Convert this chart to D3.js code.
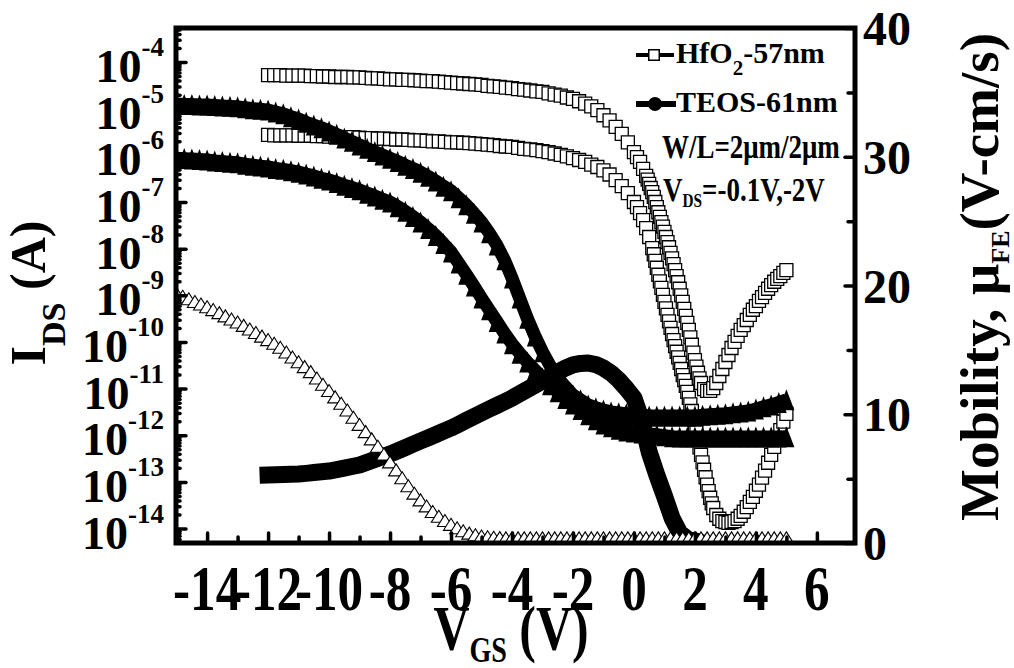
<!DOCTYPE html>
<html>
<head>
<meta charset="utf-8">
<script src="https://cdn.jsdelivr.net/npm/d3@7"></script>
<style>
  body { margin: 0; background: #fff; }
  text { font-family: "Liberation Serif", "Times New Roman", serif; font-weight: bold; fill: #000; }
</style>
</head>
<body>
<div id="chart"></div>
<script>
// ---- tick values ----
var xTicks = [-14, -12, -10, -8, -6, -4, -2, 0, 2, 4, 6];
var xMinorTicks = [-13, -11, -9, -7, -5, -3, -1, 1, 3, 5];
var idsExponents = [-14, -13, -12, -11, -10, -9, -8, -7, -6, -5, -4];
var mobilityTicks = [0, 10, 20, 30, 40];
var mobilityMinorTicks = [5, 15, 25, 35];

// ---- HfO2 transfer curves: [Vgs, log10(Ids)] ----
var hfo2HighVds = [[-12,-4.28],[-11.8,-4.28],[-11.6,-4.28],[-11.4,-4.29],[-11.2,-4.29],[-11,-4.29],[-10.8,-4.29],[-10.6,-4.30],[-10.4,-4.30],[-10.2,-4.31],
  [-10,-4.31],[-9.8,-4.32],[-9.6,-4.32],[-9.4,-4.32],[-9.2,-4.33],[-9,-4.33],[-8.8,-4.34],[-8.6,-4.35],[-8.4,-4.35],[-8.2,-4.36],
  [-8,-4.37],[-7.8,-4.37],[-7.6,-4.38],[-7.4,-4.38],[-7.2,-4.39],[-7,-4.40],[-6.8,-4.41],[-6.6,-4.41],[-6.4,-4.42],[-6.2,-4.43],
  [-6,-4.44],[-5.8,-4.45],[-5.6,-4.46],[-5.4,-4.47],[-5.2,-4.48],[-5,-4.49],[-4.8,-4.51],[-4.6,-4.52],[-4.4,-4.53],[-4.2,-4.55],
  [-4,-4.56],[-3.8,-4.58],[-3.6,-4.59],[-3.4,-4.61],[-3.2,-4.63],[-3,-4.64],[-2.8,-4.67],[-2.6,-4.70],[-2.4,-4.72],[-2.2,-4.76],
  [-2,-4.79],[-1.8,-4.84],[-1.6,-4.89],[-1.4,-4.95],[-1.2,-5.03],[-1,-5.14],[-0.8,-5.25],[-0.6,-5.39],[-0.4,-5.54],[-0.2,-5.72],
  [0,-5.93],[0.1,-6.04],[0.2,-6.14],[0.3,-6.29],[0.4,-6.44],[0.45,-6.52],[0.5,-6.61],[0.55,-6.70],[0.6,-6.79],[0.65,-6.89],
  [0.7,-7.00],[0.75,-7.11],[0.8,-7.22],[0.85,-7.32],[0.9,-7.43],[0.95,-7.53],[1,-7.64],[1.05,-7.75],[1.1,-7.86],[1.15,-7.97],
  [1.2,-8.09],[1.25,-8.21],[1.3,-8.33],[1.35,-8.46],[1.4,-8.59],[1.45,-8.72],[1.5,-8.86],[1.55,-9.00],[1.6,-9.14],[1.65,-9.29],
  [1.7,-9.44],[1.75,-9.59],[1.8,-9.74],[1.85,-9.90],[1.9,-10.06],[1.95,-10.23],[2,-10.39],[2.05,-10.53],[2.1,-10.66],[2.15,-10.78],
  [2.2,-10.88],[2.3,-11.01],[2.4,-11.05],[2.5,-11.05],[2.6,-10.99],[2.7,-10.88],[2.8,-10.73],[2.9,-10.58],[3,-10.43],[3.1,-10.28],
  [3.2,-10.13],[3.3,-10.00],[3.4,-9.87],[3.5,-9.74],[3.6,-9.64],[3.7,-9.53],[3.8,-9.42],[3.9,-9.31],[4,-9.23],[4.1,-9.12],
  [4.2,-9.04],[4.3,-8.95],[4.4,-8.86],[4.5,-8.78],[4.6,-8.71],[4.7,-8.65],[4.8,-8.59],[4.9,-8.52],[5,-8.46]];

var hfo2LowVds = [[-12,-5.56],[-11.8,-5.57],[-11.6,-5.57],[-11.4,-5.57],[-11.2,-5.57],[-11,-5.58],[-10.8,-5.58],[-10.6,-5.58],[-10.4,-5.59],[-10.2,-5.59],
  [-10,-5.60],[-9.8,-5.60],[-9.6,-5.61],[-9.4,-5.61],[-9.2,-5.61],[-9,-5.62],[-8.8,-5.63],[-8.6,-5.63],[-8.4,-5.64],[-8.2,-5.64],
  [-8,-5.65],[-7.8,-5.66],[-7.6,-5.66],[-7.4,-5.67],[-7.2,-5.68],[-7,-5.68],[-6.8,-5.69],[-6.6,-5.70],[-6.4,-5.70],[-6.2,-5.71],
  [-6,-5.72],[-5.8,-5.72],[-5.6,-5.73],[-5.4,-5.74],[-5.2,-5.75],[-5,-5.76],[-4.8,-5.77],[-4.6,-5.78],[-4.4,-5.80],[-4.2,-5.81],
  [-4,-5.82],[-3.8,-5.84],[-3.6,-5.86],[-3.4,-5.87],[-3.2,-5.89],[-3,-5.91],[-2.8,-5.93],[-2.6,-5.96],[-2.4,-5.99],[-2.2,-6.02],
  [-2,-6.06],[-1.8,-6.10],[-1.6,-6.14],[-1.4,-6.20],[-1.2,-6.25],[-1,-6.32],[-0.8,-6.41],[-0.6,-6.53],[-0.4,-6.66],[-0.2,-6.81],
  [0,-7.00],[0.1,-7.11],[0.2,-7.24],[0.3,-7.39],[0.4,-7.56],[0.5,-7.75],[0.6,-7.99],[0.65,-8.12],[0.7,-8.26],[0.75,-8.41],
  [0.8,-8.56],[0.85,-8.70],[0.9,-8.84],[0.95,-8.99],[1,-9.14],[1.05,-9.28],[1.1,-9.42],[1.15,-9.56],[1.2,-9.70],[1.25,-9.83],
  [1.3,-9.96],[1.35,-10.09],[1.4,-10.21],[1.45,-10.33],[1.5,-10.45],[1.55,-10.58],[1.6,-10.71],[1.65,-10.82],[1.7,-10.94],[1.75,-11.07],
  [1.8,-11.20],[1.85,-11.34],[1.9,-11.48],[1.95,-11.63],[2,-11.78],[2.05,-11.94],[2.1,-12.10],[2.15,-12.26],[2.2,-12.42],[2.25,-12.58],
  [2.3,-12.74],[2.35,-12.90],[2.4,-13.06],[2.45,-13.20],[2.5,-13.34],[2.55,-13.46],[2.6,-13.56],[2.7,-13.71],[2.8,-13.79],[2.9,-13.84],
  [3,-13.86],[3.1,-13.88],[3.2,-13.86],[3.3,-13.84],[3.4,-13.79],[3.5,-13.73],[3.6,-13.64],[3.7,-13.54],[3.8,-13.43],[3.9,-13.32],
  [4,-13.19],[4.1,-13.06],[4.2,-12.91],[4.3,-12.76],[4.4,-12.59],[4.5,-12.42],[4.6,-12.25],[4.7,-12.08],[4.8,-11.89],[4.9,-11.71],[5,-11.54]];

// ---- TEOS transfer curves: log10(Ids), Vgs from -15 V in 0.25 V steps ----
var teosStart = -15, teosStep = 0.25;
var teosHighVds = [-4.90,-4.91,-4.91,-4.92,-4.92,-4.93,-4.94,-4.95,-4.96,-4.98,
  -5.00,-5.01,-5.03,-5.07,-5.11,-5.17,-5.22,-5.29,-5.35,-5.41,
  -5.48,-5.55,-5.63,-5.70,-5.78,-5.85,-5.92,-5.99,-6.06,-6.13,
  -6.21,-6.28,-6.36,-6.45,-6.55,-6.66,-6.76,-6.91,-7.06,-7.24,
  -7.43,-7.66,-7.92,-8.24,-8.63,-9.06,-9.49,-9.87,-10.21,-10.51,
  -10.77,-10.96,-11.14,-11.24,-11.35,-11.41,-11.46,-11.50,-11.52,-11.54,
  -11.56,-11.56,-11.59,-11.59,-11.59,-11.59,-11.59,-11.59,-11.59,-11.57,
  -11.56,-11.55,-11.54,-11.52,-11.50,-11.48,-11.44,-11.39,-11.35,-11.30,-11.24];
var teosLowVds = [-6.06,-6.07,-6.08,-6.09,-6.10,-6.12,-6.13,-6.15,-6.16,-6.19,
  -6.21,-6.23,-6.25,-6.28,-6.30,-6.33,-6.36,-6.40,-6.44,-6.49,
  -6.53,-6.58,-6.64,-6.69,-6.74,-6.81,-6.87,-6.94,-7.00,-7.10,
  -7.20,-7.31,-7.43,-7.57,-7.72,-7.89,-8.07,-8.31,-8.55,-8.80,
  -9.06,-9.31,-9.56,-9.81,-10.04,-10.24,-10.43,-10.60,-10.77,-10.92,
  -11.07,-11.21,-11.33,-11.45,-11.56,-11.67,-11.76,-11.82,-11.87,-11.91,
  -11.93,-11.95,-11.97,-11.99,-12.01,-12.03,-12.04,-12.04,-12.04,-12.04,
  -12.04,-12.04,-12.04,-12.04,-12.04,-12.04,-12.04,-12.04,-12.04,-12.04,-12.03];

// ---- field-effect mobility (V-cm/s) ----
var hfo2MobStart = -15, hfo2MobStep = 0.2;
var hfo2Mobility = [19.37,19.17,18.97,18.76,18.56,18.35,18.13,17.89,17.64,17.40,
  17.16,16.90,16.62,16.35,16.07,15.80,15.52,15.20,14.83,14.45,
  14.08,13.70,13.31,12.82,12.33,11.84,11.35,10.86,10.33,9.77,
  9.21,8.65,8.09,7.52,6.91,6.30,5.68,5.07,4.45,3.87,
  3.35,2.88,2.45,2.08,1.75,1.45,1.18,0.95,0.77,0.64,
  0.55,0.49,0.45,0.42,0.40,0.40,0.40,0.40,0.40,0.40,
  0.40,0.40,0.40,0.40,0.40,0.40,0.40,0.40,0.40,0.40,
  0.40,0.40,0.40,0.40,0.40,0.40,0.40,0.40,0.40,0.40,
  0.40,0.40,0.40,0.40,0.40,0.40,0.40,0.40,0.40,0.40,
  0.40,0.40,0.40,0.40,0.40,0.40,0.40,0.40,0.40,0.40,0.40];
var teosMobStart = -12, teosMobStep = 0.25;
var teosMobility = [5.28,5.30,5.32,5.34,5.36,5.41,5.47,5.53,5.59,5.70,
  5.82,5.94,6.06,6.27,6.48,6.70,6.91,7.16,7.41,7.67,
  7.92,8.17,8.42,8.68,8.93,9.22,9.52,9.81,10.10,10.39,
  10.68,10.97,11.26,11.59,11.92,12.25,12.58,12.95,13.28,13.58,
  13.83,13.95,13.98,13.86,13.59,13.20,12.66,12.00,11.26,9.55,
  7.07,5.28,3.65,1.94,0.78,0.31,0.16];

function sweep(start, step, values) {
  return values.map(function(v, i) { return [start + i * step, v]; });
}

var width = 1014, height = 668;
var frame = { left: 176, right: 855, top: 28, bottom: 543 };

var svg = d3.select("#chart").append("svg")
  .attr("width", width)
  .attr("height", height);

var x = d3.scaleLinear().domain([-15.02, 7.25]).range([frame.left, frame.right]);
var y = d3.scaleLog().domain([Math.pow(10, -14.31), Math.pow(10, -3.27)]).range([frame.bottom, frame.top]);
var y2 = d3.scaleLinear().domain([0, 40]).range([frame.bottom, frame.top]);

function yIds(d) { return y(Math.pow(10, d[1])); }

function triPath(w, h) {
  return "M0," + (-h / 2) + "L" + (w / 2) + "," + (h / 2) + "L" + (-w / 2) + "," + (h / 2) + "Z";
}

// ---- legend (sits under the data, like the original) ----
var legend = svg.append("g");
legend.append("line").attr("x1", 636).attr("x2", 674).attr("y1", 55).attr("y2", 55)
  .attr("stroke", "#000").attr("stroke-width", 4);
legend.append("path").attr("d", d3.symbol(d3.symbolSquare, 110)())
  .attr("transform", "translate(654,55)")
  .attr("fill", "#fff").attr("stroke", "#000").attr("stroke-width", 1.5);
var l1 = legend.append("text").attr("x", 676).attr("y", 63).style("font-size", "30px");
l1.append("tspan").text("HfO");
l1.append("tspan").attr("dy", 12).style("font-size", "21px").text("2");
l1.append("tspan").attr("dy", -12).text("-57nm");

legend.append("line").attr("x1", 636).attr("x2", 676).attr("y1", 104).attr("y2", 104)
  .attr("stroke", "#000").attr("stroke-width", 6);
legend.append("circle").attr("cx", 655).attr("cy", 104).attr("r", 7).attr("fill", "#000");
legend.append("text").attr("x", 676).attr("y", 112).style("font-size", "30px").text("TEOS-61nm");

legend.append("text").attr("transform", "translate(662,158) scale(0.9,1.1)")
  .style("font-size", "30px").text("W/L=2\u03bcm/2\u03bcm");
var l4 = legend.append("text").attr("transform", "translate(663,201) scale(0.9,1.1)")
  .style("font-size", "30px");
l4.append("tspan").text("V");
l4.append("tspan").attr("dy", 5).style("font-size", "17px").text("DS");
l4.append("tspan").attr("dy", -5).text("=-0.1V,-2V");

// ---- plot area ----
svg.append("defs").append("clipPath").attr("id", "plotClip")
  .append("rect")
  .attr("x", frame.left).attr("y", frame.top)
  .attr("width", frame.right - frame.left).attr("height", frame.bottom - frame.top);

var plot = svg.append("g").attr("clip-path", "url(#plotClip)");

// TEOS mobility: heavy band of filled circles
var teosMobPts = sweep(teosMobStart, teosMobStep, teosMobility);
plot.append("path")
  .datum(teosMobPts)
  .attr("d", d3.line().x(function(d) { return x(d[0]); }).y(function(d) { return y2(d[1]); }))
  .attr("fill", "none").attr("stroke", "#000").attr("stroke-width", 17)
  .attr("stroke-linejoin", "round").attr("stroke-linecap", "square");

// HfO2 mobility: open triangles
var hfo2MobPts = sweep(hfo2MobStart, hfo2MobStep, hfo2Mobility);
plot.selectAll(".mobTri")
  .data(hfo2MobPts)
  .enter().append("path")
  .attr("class", "mobTri")
  .attr("d", triPath(15, 12))
  .attr("transform", function(d) { return "translate(" + x(d[0]) + "," + y2(d[1]) + ")"; })
  .attr("fill", "#fff").attr("stroke", "#000").attr("stroke-width", 1.1);

// HfO2 Ids: open squares
var square = d3.symbol(d3.symbolSquare, 169)();
[hfo2HighVds, hfo2LowVds].forEach(function(series, k) {
  plot.selectAll(".sq" + k)
    .data(series)
    .enter().append("path")
    .attr("class", "sq" + k)
    .attr("d", square)
    .attr("transform", function(d) { return "translate(" + x(d[0]) + "," + yIds(d) + ")"; })
    .attr("fill", "#fff").attr("stroke", "#000").attr("stroke-width", 1.3);
});

// TEOS Ids: filled triangles
[teosHighVds, teosLowVds].forEach(function(values, k) {
  var pts = sweep(teosStart, teosStep, values);
  plot.append("path")
    .datum(pts)
    .attr("d", d3.line().x(function(d) { return x(d[0]); }).y(yIds))
    .attr("fill", "none").attr("stroke", "#000").attr("stroke-width", 13)
    .attr("stroke-linejoin", "round");
  plot.selectAll(".tri" + k)
    .data(pts)
    .enter().append("path")
    .attr("class", "tri" + k)
    .attr("d", triPath(16, 21))
    .attr("transform", function(d) { return "translate(" + x(d[0]) + "," + yIds(d) + ")"; })
    .attr("fill", "#000");
});

// ---- axes ----
function styleAxis(g) {
  g.select(".domain").remove();
  g.selectAll(".tick text").remove();
  g.selectAll(".tick line")
    .attr("stroke", "#000").attr("stroke-width", 3.5).attr("stroke-linecap", "round");
}

var idsMinor = [];
for (var e = -15; e <= -4; e++) {
  for (var m = 2; m <= 9; m++) {
    var v = m * Math.pow(10, e);
    if (v > y.domain()[0] && v < y.domain()[1]) idsMinor.push(v);
  }
}

svg.append("g").attr("transform", "translate(0," + frame.bottom + ")")
  .call(d3.axisBottom(x).tickValues(xTicks).tickSize(-10).tickFormat("")).call(styleAxis);
svg.append("g").attr("transform", "translate(0," + frame.bottom + ")")
  .call(d3.axisBottom(x).tickValues(xMinorTicks).tickSize(-6).tickFormat("")).call(styleAxis);

svg.append("g").attr("transform", "translate(" + frame.left + ",0)")
  .call(d3.axisLeft(y).tickValues(idsExponents.map(function(e) { return Math.pow(10, e); }))
    .tickSize(-10).tickFormat("")).call(styleAxis);
svg.append("g").attr("transform", "translate(" + frame.left + ",0)")
  .call(d3.axisLeft(y).tickValues(idsMinor).tickSize(-4).tickFormat("")).call(styleAxis);

svg.append("g").attr("transform", "translate(" + frame.right + ",0)")
  .call(d3.axisRight(y2).tickValues(mobilityTicks).tickSize(-10).tickFormat("")).call(styleAxis);
svg.append("g").attr("transform", "translate(" + frame.right + ",0)")
  .call(d3.axisRight(y2).tickValues(mobilityMinorTicks).tickSize(-7).tickFormat("")).call(styleAxis);

svg.append("rect")
  .attr("x", frame.left).attr("y", frame.top)
  .attr("width", frame.right - frame.left).attr("height", frame.bottom - frame.top)
  .attr("fill", "none").attr("stroke", "#000").attr("stroke-width", 5);

// ---- tick labels ----
idsExponents.forEach(function(e) {
  var t = svg.append("text")
    .attr("x", 164)
    .attr("y", y(Math.pow(10, e)) + 20)
    .attr("text-anchor", "end")
    .style("font-size", "46px");
  t.append("tspan").text("10");
  t.append("tspan").attr("dy", -26).style("font-size", "27px").text(e);
});

xTicks.forEach(function(v) {
  svg.append("text")
    .attr("transform", "translate(" + x(v) + ",610) scale(0.8,1)")
    .attr("text-anchor", "middle")
    .style("font-size", "64px")
    .text(v);
});

mobilityTicks.forEach(function(v) {
  svg.append("text")
    .attr("x", 863)
    .attr("y", y2(v) + 17)
    .style("font-size", "48px")
    .text(v);
});

// ---- axis titles ----
var xTitle = svg.append("text")
  .attr("transform", "translate(511,650) scale(0.78,1)")
  .attr("text-anchor", "middle")
  .style("font-size", "64px");
xTitle.append("tspan").text("V");
xTitle.append("tspan").attr("dy", 12).style("font-size", "36px").text("GS");
xTitle.append("tspan").attr("dy", -12).text(" (V)");

var yTitle = svg.append("text")
  .attr("transform", "translate(45,293) rotate(-90)")
  .attr("text-anchor", "middle")
  .style("font-size", "50px");
yTitle.append("tspan").text("I");
yTitle.append("tspan").attr("dy", 20).style("font-size", "34px").text("DS");
yTitle.append("tspan").attr("dy", -20).text(" (A)");

var y2Title = svg.append("text")
  .attr("transform", "translate(998,277) rotate(-90)")
  .attr("text-anchor", "middle")
  .style("font-size", "55px");
y2Title.append("tspan").text("Mobility, \u03bc");
y2Title.append("tspan").attr("dy", 11).style("font-size", "26px").text("FE");
y2Title.append("tspan").attr("dy", -11).text("(V-cm/s)");
</script>
</body>
</html>
